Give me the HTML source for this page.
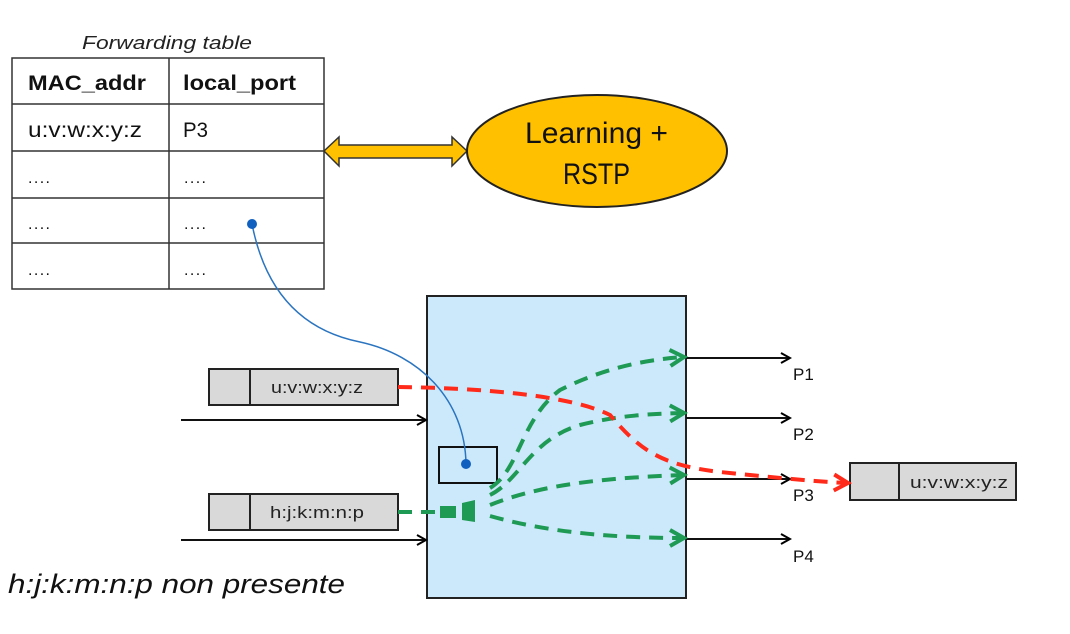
<!DOCTYPE html>
<html><head><meta charset="utf-8"><style>
html,body{margin:0;padding:0;background:#fff;}
svg{display:block;font-family:"Liberation Sans",sans-serif;}
</style></head><body>
<svg width="1070" height="634" viewBox="0 0 1070 634" xmlns="http://www.w3.org/2000/svg">
<defs>
<marker id="ab" markerWidth="12" markerHeight="12" refX="10" refY="6" orient="auto" markerUnits="userSpaceOnUse"><path d="M1,1 L10,6 L1,11" fill="none" stroke="#000" stroke-width="2"/></marker>
<marker id="ag" markerWidth="20" markerHeight="20" refX="16" refY="10" orient="auto" markerUnits="userSpaceOnUse"><path d="M2,2 L16,10 L2,18" fill="none" stroke="#1e9a55" stroke-width="4"/></marker>
<marker id="ar" markerWidth="20" markerHeight="20" refX="16" refY="10" orient="auto" markerUnits="userSpaceOnUse"><path d="M2,2 L16,10 L2,18" fill="none" stroke="#ff2a1a" stroke-width="4"/></marker>
</defs>
<text x="82" y="49" font-size="18" font-style="italic" textLength="170" lengthAdjust="spacingAndGlyphs" fill="#222">Forwarding table</text>
<g stroke="#333" stroke-width="1.5" fill="none">
<rect x="12" y="58" width="312" height="231"/>
<line x1="169" y1="58" x2="169" y2="289"/>
<line x1="12" y1="104" x2="324" y2="104"/>
<line x1="12" y1="151" x2="324" y2="151"/>
<line x1="12" y1="198" x2="324" y2="198"/>
<line x1="12" y1="243" x2="324" y2="243"/>
</g>
<g font-size="21" fill="#111">
<text x="28" y="90" font-weight="bold" textLength="118" lengthAdjust="spacingAndGlyphs">MAC_addr</text>
<text x="183" y="90" font-weight="bold" textLength="113" lengthAdjust="spacingAndGlyphs">local_port</text>
<text x="28" y="137" textLength="114" lengthAdjust="spacingAndGlyphs">u:v:w:x:y:z</text>
<text x="183" y="137" textLength="25" lengthAdjust="spacingAndGlyphs">P3</text>
<text x="28" y="183" font-size="16" textLength="22" lengthAdjust="spacing">....</text><text x="184" y="183" font-size="16" textLength="22" lengthAdjust="spacing">....</text>
<text x="28" y="229" font-size="16" textLength="22" lengthAdjust="spacing">....</text><text x="184" y="229" font-size="16" textLength="22" lengthAdjust="spacing">....</text>
<text x="28" y="275" font-size="16" textLength="22" lengthAdjust="spacing">....</text><text x="184" y="275" font-size="16" textLength="22" lengthAdjust="spacing">....</text>
</g>
<path d="M324,151 L339,137 L339,145 L452,145 L452,137 L467,151 L452,166 L452,158 L339,158 L339,166 Z" fill="#ffc000" stroke="#333" stroke-width="1.5"/>
<ellipse cx="597" cy="151" rx="130" ry="56" fill="#ffc000" stroke="#222" stroke-width="2"/>
<text x="525" y="143" font-size="30" textLength="143" lengthAdjust="spacingAndGlyphs" fill="#111">Learning +</text>
<text x="563" y="184" font-size="30" textLength="67" lengthAdjust="spacingAndGlyphs" fill="#111">RSTP</text>
<rect x="427" y="296" width="259" height="302" fill="#cce9fb" stroke="#222" stroke-width="2"/>
<rect x="439" y="447" width="58" height="36" fill="none" stroke="#111" stroke-width="2"/>
<path d="M252,224 C265,290 300,330 360,342 C420,355 465,400 466,464" fill="none" stroke="#2a74c0" stroke-width="1.5"/>
<circle cx="252" cy="224" r="5" fill="#1060c0"/>
<circle cx="466" cy="464" r="5" fill="#1060c0"/>
<g stroke="#111" stroke-width="2">
<line x1="181" y1="420" x2="426" y2="420" marker-end="url(#ab)"/>
<line x1="181" y1="540" x2="426" y2="540" marker-end="url(#ab)"/>
<line x1="686" y1="358" x2="790" y2="358" marker-end="url(#ab)"/>
<line x1="686" y1="418" x2="790" y2="418" marker-end="url(#ab)"/>
<line x1="686" y1="479" x2="790" y2="479" marker-end="url(#ab)"/>
<line x1="686" y1="539" x2="790" y2="539" marker-end="url(#ab)"/>
</g>
<g font-size="17" fill="#111">
<text x="793" y="380">P1</text><text x="793" y="440">P2</text><text x="793" y="501">P3</text><text x="793" y="562">P4</text>
</g>
<g stroke="#222" stroke-width="2">
<rect x="209" y="369" width="189" height="36" fill="#d9d9d9"/><line x1="250" y1="369" x2="250" y2="405"/>
<rect x="209" y="494" width="189" height="36" fill="#d9d9d9"/><line x1="250" y1="494" x2="250" y2="530"/>
<rect x="850" y="463" width="166" height="37" fill="#d9d9d9"/><line x1="899" y1="463" x2="899" y2="500"/>
</g>
<g font-size="17" fill="#222">
<text x="271" y="393" textLength="92" lengthAdjust="spacingAndGlyphs">u:v:w:x:y:z</text>
<text x="270" y="518" textLength="94" lengthAdjust="spacingAndGlyphs">h:j:k:m:n:p</text>
<text x="910" y="488" textLength="98" lengthAdjust="spacingAndGlyphs">u:v:w:x:y:z</text>
</g>
<g fill="none" stroke="#1e9a55" stroke-width="4" stroke-dasharray="14,9">
<path d="M398,512 L455,512"/>
<path d="M490,488 C520,470 520,420 560,390 C600,370 640,360 684,357" marker-end="url(#ag)"/>
<path d="M490,495 C520,480 530,440 580,425 C620,415 650,414 684,413" marker-end="url(#ag)"/>
<path d="M490,505 C540,485 600,478 684,475" marker-end="url(#ag)"/>
<path d="M490,516 C540,530 600,538 684,538" marker-end="url(#ag)"/>
</g>
<path d="M440,506 L456,506 L456,518 L440,518 Z" fill="#1e9a55"/>
<path d="M462,503 L475,500 L475,522 L462,520 Z" fill="#1e9a55"/>
<path d="M398,387 C480,388 570,395 610,415 C640,450 660,465 720,472 C780,478 820,482 848,483" fill="none" stroke="#ff2a1a" stroke-width="4" stroke-dasharray="14,9" marker-end="url(#ar)"/>
<text x="8" y="593" font-size="27" font-style="italic" textLength="337" lengthAdjust="spacingAndGlyphs" fill="#111">h:j:k:m:n:p non presente</text>
</svg>
</body></html>
